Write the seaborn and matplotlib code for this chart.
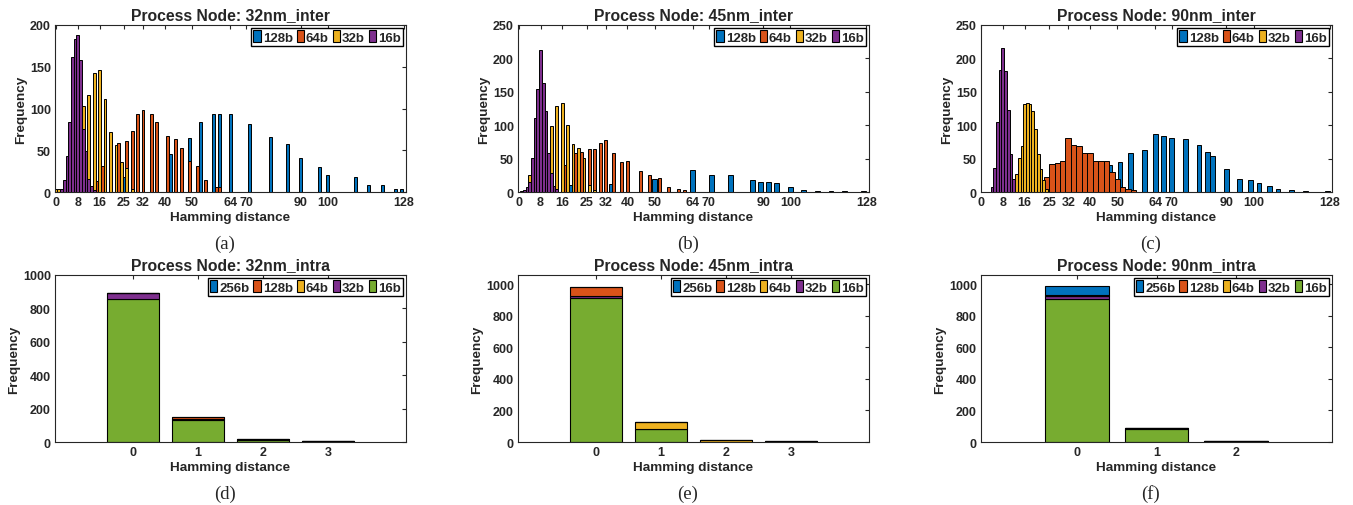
import os

import matplotlib
matplotlib.use("Agg")
import matplotlib.pyplot as plt
import matplotlib.font_manager as fm
import numpy as np
import pandas as pd
import seaborn as sns
from matplotlib.patches import Patch

sns.set_theme(style="white")

# make sure the regular-width Liberation Sans is used (not the Narrow cut)
sans_name = "Liberation Sans"
for f in fm.fontManager.ttflist:
    if os.path.basename(f.fname).lower() == "liberationsans-bold.ttf":
        sans_name = f.name
        break
plt.rcParams["font.family"] = [sans_name, "DejaVu Sans"]
plt.rcParams["font.stretch"] = "normal"
plt.rcParams["font.weight"] = "bold"
plt.rcParams["axes.labelweight"] = "bold"
plt.rcParams["axes.titleweight"] = "bold"

# MATLAB default colour order
C_BLUE = "#0072BD"
C_ORANGE = "#D95319"
C_YELLOW = "#EDB120"
C_PURPLE = "#7E2F8E"
C_GREEN = "#77AC30"

# ---------------- inter-die histograms (top row) ----------------
# 32nm_inter
a16_x = [2, 3, 4, 5, 6, 7, 8, 9, 10, 11, 12, 13, 14]
a16_h = [3, 14, 43, 84, 162, 183, 188, 158, 75, 49, 15, 7, 2]
a32_x = [0, 1, 10, 12, 14, 16, 18, 20, 22, 24, 26, 28]
a32_h = [3, 4, 103, 116, 143, 146, 111, 72, 56, 36, 29, 4]
a64_x = [15, 17, 23, 26, 28, 30, 32, 35, 37, 41, 44, 46, 49, 52, 55, 59, 60]
a64_h = [13, 31, 59, 61, 73, 94, 98, 93, 84, 67, 64, 53, 37, 31, 14, 6, 6]
a128_x = [25, 42, 49, 53, 58, 60, 64, 71, 79, 85, 90, 97, 100, 110, 115, 120, 125, 127]
a128_h = [18, 45, 65, 84, 93, 93, 94, 81, 66, 58, 41, 30, 20, 18, 8, 8, 4, 4]

# 45nm_inter
b16_x = [1, 2, 3, 4, 5, 6, 7, 8, 9, 10, 11, 12, 13, 14]
b16_h = [2, 3, 8, 15, 51, 111, 154, 212, 163, 121, 58, 29, 9, 5]
b32_x = [4, 10, 12, 14, 16, 18, 20, 22, 24, 26, 28]
b32_h = [25, 8, 99, 129, 133, 101, 72, 66, 51, 11, 3]
b64_x = [17, 21, 23, 26, 28, 30, 32, 35, 38, 40, 45, 48, 52, 55, 59, 61]
b64_h = [40, 58, 60, 64, 64, 74, 78, 58, 45, 47, 32, 25, 21, 7, 5, 3]
b128_x = [19, 34, 50, 64, 71, 78, 86, 89, 92, 95, 100, 105, 110, 115, 120, 127]
b128_h = [10, 12, 19, 33, 26, 26, 18, 15, 15, 14, 8, 3, 2, 1, 1, 1]

# 90nm_inter
c16_x = [4, 5, 6, 7, 8, 9, 10, 11, 12]
c16_h = [8, 36, 105, 183, 216, 181, 123, 57, 20]
c32_x = [13, 14, 15, 16, 17, 18, 19, 20, 21, 22, 23, 24]
c32_h = [27, 51, 69, 132, 133, 131, 121, 95, 57, 35, 18, 4]
c64_x = [24, 26, 28, 30, 32, 34, 36, 38, 40, 42, 44, 46, 48, 50, 52, 54, 56]
c64_h = [22, 42, 43, 47, 81, 71, 69, 59, 59, 46, 46, 46, 30, 20, 7, 4, 3]
c128_x = [47, 51, 55, 60, 64, 67, 70, 75, 80, 83, 85, 90, 95, 99, 102, 106, 109, 114, 119, 127]
c128_h = [41, 45, 59, 63, 87, 84, 81, 79, 70, 60, 54, 34, 20, 18, 14, 9, 5, 3, 2, 1]

inter_ticks = [0, 8, 16, 25, 32, 40, 50, 64, 70, 90, 100, 128]

# ---------------- intra-die stacked bars (bottom row) ----------------
intra_sizes = ["256b", "128b", "64b", "32b", "16b"]
d_hd = [0, 1, 2, 3]
d16 = [857, 132, 10, 2]
d32 = [38, 4, 3, 1]
d64 = [0, 2, 2, 0]
d128 = [0, 10, 0, 0]
d256 = [0, 0, 0, 0]

e_hd = [0, 1, 2, 3]
e16 = [913, 82, 3, 1]
e32 = [8, 0, 0, 0]
e64 = [2, 47, 12, 3]
e128 = [55, 0, 0, 0]
e256 = [0, 0, 0, 0]

f_hd = [0, 1, 2]
f16 = [908, 85, 3]
f32 = [15, 2, 1]
f64 = [2, 0, 0]
f128 = [3, 0, 0]
f256 = [60, 0, 0]


def bar_edges(xs, w):
    edges = []
    for p in xs:
        lo, hi = p - w / 2, p + w / 2
        if edges and abs(edges[-1] - lo) < 1e-9:
            edges.append(hi)
        else:
            edges.extend([lo, hi])
    return edges


def style_axes(ax):
    for s in ax.spines.values():
        s.set_color("#262626")
        s.set_linewidth(0.8)
    ax.tick_params(direction="in", length=3, width=0.8, top=True, right=True,
                   labelsize=9, colors="#262626", pad=3)
    for lab in ax.get_xticklabels() + ax.get_yticklabels():
        lab.set_fontweight("bold")


def add_legend(ax, labels, colors):
    handles = [Patch(facecolor=c, edgecolor="black", linewidth=0.8) for c in colors]
    ax.legend(handles, labels, loc="upper right", ncol=len(labels),
              handlelength=0.55, handleheight=1.0, handletextpad=0.15,
              columnspacing=0.3, borderpad=0.15, borderaxespad=0.25,
              frameon=True, fancybox=False, edgecolor="black", framealpha=1,
              prop={"weight": "bold", "size": 9.5, "family": [sans_name]})


W, H = 1353, 506
fig = plt.figure(figsize=(W / 100, H / 100), dpi=100)

lefts = [55, 518, 981]
axw = 351 / W
axh = 167 / H

top_panels = [
    ("Process Node: 32nm_inter", (-0.4, 128.7), (0, 200), [0, 50, 100, 150, 200],
     [(a128_x, a128_h, 1.1), (a64_x, a64_h, 1.0), (a32_x, a32_h, 1.0), (a16_x, a16_h, 1.0)], "(a)"),
    ("Process Node: 45nm_inter", (-0.3, 129.0), (0, 250), [0, 50, 100, 150, 200, 250],
     [(b128_x, b128_h, 1.8), (b64_x, b64_h, 1.1), (b32_x, b32_h, 1.0), (b16_x, b16_h, 1.0)], "(b)"),
    ("Process Node: 90nm_inter", (1.3, 128.8), (0, 250), [0, 50, 100, 150, 200, 250],
     [(c128_x, c128_h, 1.8), (c64_x, c64_h, 2.0), (c32_x, c32_h, 1.0), (c16_x, c16_h, 1.0)], "(c)"),
]
inter_colors = [C_BLUE, C_ORANGE, C_YELLOW, C_PURPLE]

for i, (title, xlim, ylim, yticks, series, cap) in enumerate(top_panels):
    ax = fig.add_axes([lefts[i] / W, 1 - 193 / H, axw, axh])
    for (xs, hs, w), col in zip(series, inter_colors):
        sns.histplot(x=xs, weights=hs, bins=bar_edges(xs, w), color=col, alpha=1,
                     edgecolor="black", linewidth=0.7, ax=ax)
    ax.set_xlim(*xlim)
    ax.set_ylim(*ylim)
    ax.set_xticks(inter_ticks)
    ax.set_yticks(yticks)
    ax.set_title(title, fontsize=11.3, fontweight="bold", pad=4.5)
    ax.set_xlabel("Hamming distance", fontsize=9.7, fontweight="bold", labelpad=2)
    ax.set_ylabel("Frequency", fontsize=9.7, fontweight="bold", labelpad=2)
    style_axes(ax)
    add_legend(ax, ["128b", "64b", "32b", "16b"], inter_colors)
    fig.text((lefts[i] + 170) / W, 1 - 244 / H, cap, ha="center", va="center",
             fontsize=13.5, family=["Liberation Serif"], fontweight="normal")

intra_palette = {"256b": C_BLUE, "128b": C_ORANGE, "64b": C_YELLOW, "32b": C_PURPLE, "16b": C_GREEN}
bottom_panels = [
    ("Process Node: 32nm_intra", d_hd, [d256, d128, d64, d32, d16], (-1.2, 4.2), (0, 1000),
     [0, 200, 400, 600, 800, 1000], "(d)"),
    ("Process Node: 45nm_intra", e_hd, [e256, e128, e64, e32, e16], (-1.2, 4.2), (0, 1057),
     [0, 200, 400, 600, 800, 1000], "(e)"),
    ("Process Node: 90nm_intra", f_hd, [f256, f128, f64, f32, f16], (-1.2, 3.2), (0, 1057),
     [0, 200, 400, 600, 800, 1000], "(f)"),
]

for i, (title, hd, vals, xlim, ylim, yticks, cap) in enumerate(bottom_panels):
    ax = fig.add_axes([lefts[i] / W, 1 - 443 / H, axw, axh])
    df = pd.DataFrame({
        "hd": np.tile(hd, len(intra_sizes)),
        "size": np.repeat(intra_sizes, len(hd)),
        "count": np.concatenate(vals),
    })
    sns.histplot(data=df, x="hd", weights="count", hue="size", hue_order=intra_sizes,
                 multiple="stack", discrete=True, shrink=0.8, palette=intra_palette,
                 alpha=1, edgecolor="black", linewidth=0.8, legend=False, ax=ax)
    ax.set_xlim(*xlim)
    ax.set_ylim(*ylim)
    ax.set_xticks(hd)
    ax.set_yticks(yticks)
    ax.set_title(title, fontsize=11.3, fontweight="bold", pad=4.5)
    ax.set_xlabel("Hamming distance", fontsize=9.7, fontweight="bold", labelpad=2)
    ax.set_ylabel("Frequency", fontsize=9.7, fontweight="bold", labelpad=2)
    style_axes(ax)
    add_legend(ax, intra_sizes, [intra_palette[s] for s in intra_sizes])
    fig.text((lefts[i] + 170) / W, 1 - 494 / H, cap, ha="center", va="center",
             fontsize=13.5, family=["Liberation Serif"], fontweight="normal")

fig.savefig("out.png", dpi=100)
